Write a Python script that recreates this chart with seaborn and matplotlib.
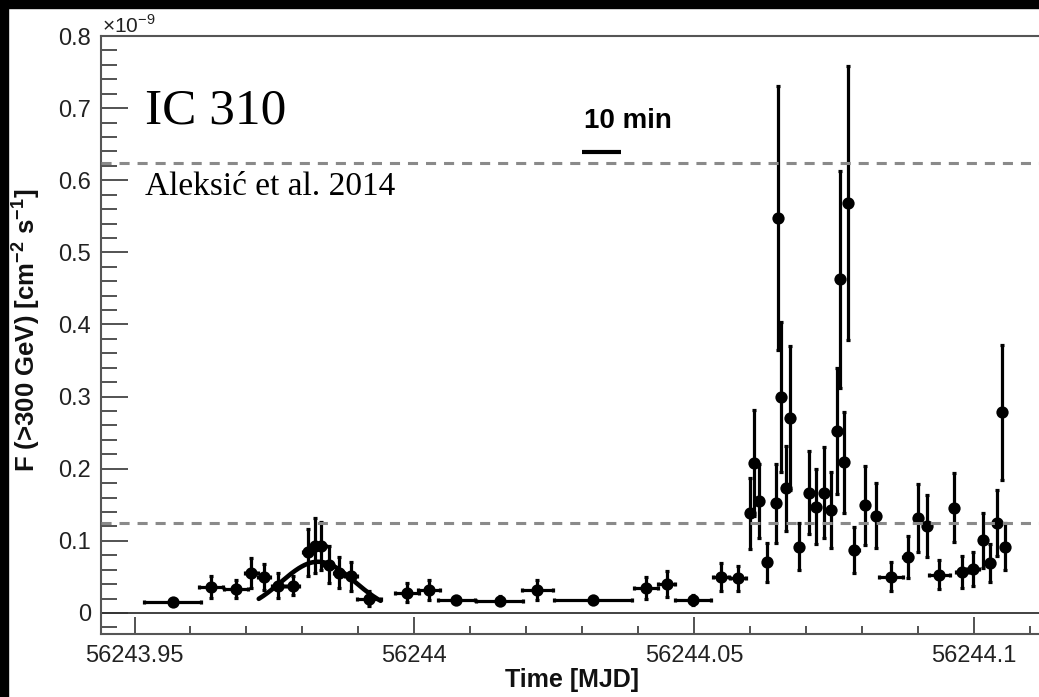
import numpy as np
import pandas as pd
import matplotlib
matplotlib.use("Agg")
import matplotlib.pyplot as plt
import seaborn as sns
from matplotlib.patches import Rectangle
from matplotlib.ticker import FixedLocator, MultipleLocator

# ---------------- data (flux in units of 1e-9 cm^-2 s^-1) ----------------
mjd = [56243.9568, 56243.9637, 56243.9681, 56243.9709, 56243.9731, 56243.9756,
       56243.9783, 56243.9810, 56243.9822, 56243.9834, 56243.9847, 56243.9865,
       56243.9887, 56243.9919, 56243.9987, 56244.0026, 56244.0075, 56244.0153,
       56244.0220, 56244.0320, 56244.0414, 56244.0451, 56244.0498, 56244.0549,
       56244.0579, 56244.0600, 56244.0607, 56244.0616, 56244.0631, 56244.0646,
       56244.0651, 56244.0655, 56244.0664, 56244.0672, 56244.0688, 56244.0706,
       56244.0719, 56244.0732, 56244.0745, 56244.0755, 56244.0762, 56244.0769,
       56244.0776, 56244.0787, 56244.0806, 56244.0826, 56244.0852, 56244.0882,
       56244.0901, 56244.0916, 56244.0939, 56244.0965, 56244.0979, 56244.0999,
       56244.1016, 56244.1029, 56244.1042, 56244.1050, 56244.1057]
flux = [0.015, 0.036, 0.033, 0.055, 0.050, 0.038,
        0.038, 0.084, 0.093, 0.093, 0.067, 0.056,
        0.051, 0.020, 0.028, 0.032, 0.018, 0.017,
        0.032, 0.018, 0.035, 0.040, 0.018, 0.050,
        0.048, 0.138, 0.208, 0.155, 0.070, 0.152,
        0.547, 0.299, 0.173, 0.270, 0.092, 0.167,
        0.147, 0.167, 0.143, 0.252, 0.4625, 0.209,
        0.568, 0.0875, 0.149, 0.135, 0.050, 0.077,
        0.1315, 0.120, 0.053, 0.146, 0.057, 0.061,
        0.101, 0.069, 0.125, 0.278, 0.092]
mjd_err = [0.0051, 0.0021, 0.0021, 0.0011, 0.0011, 0.0011,
           0.0011, 0.0008, 0.0008, 0.0008, 0.0008, 0.0008,
           0.0011, 0.0022, 0.0021, 0.0020, 0.0033, 0.0042,
           0.0028, 0.0070, 0.0022, 0.0016, 0.0032, 0.0014,
           0.0014, 0.0005, 0.0005, 0.0005, 0.0005, 0.0005,
           0.0005, 0.0005, 0.0005, 0.0005, 0.0005, 0.0005,
           0.0005, 0.0005, 0.0005, 0.0005, 0.0005, 0.0005,
           0.0005, 0.0008, 0.0005, 0.0005, 0.0021, 0.0008,
           0.0005, 0.0005, 0.0018, 0.0005, 0.0011, 0.0011,
           0.0005, 0.0008, 0.0005, 0.0005, 0.0005]
flux_err = [0.004, 0.015, 0.012, 0.021, 0.018, 0.017,
            0.013, 0.033, 0.038, 0.033, 0.026, 0.021,
            0.020, 0.010, 0.013, 0.014, 0.006, 0.006,
            0.014, 0.005, 0.015, 0.018, 0.007, 0.019,
            0.017, 0.049, 0.074, 0.051, 0.027, 0.055,
            0.183, 0.104, 0.059, 0.100, 0.033, 0.058,
            0.052, 0.063, 0.053, 0.087, 0.150, 0.070,
            0.190, 0.032, 0.055, 0.045, 0.020, 0.029,
            0.047, 0.043, 0.020, 0.048, 0.022, 0.023,
            0.038, 0.026, 0.046, 0.094, 0.033]

threshold_levels = [0.624, 0.125]

# Gaussian fit of the first (small) flare
fit_amp = 0.071
fit_mu = 56243.9828
fit_sigma = 0.0066
fit_start, fit_end = 56243.9722, 56243.9940

xtick_values = [56243.95, 56244.0, 56244.05, 56244.1]
xtick_labels = ["56243.95", "56244", "56244.05", "56244.1"]
ytick_values = [0.0, 0.1, 0.2, 0.3, 0.4, 0.5, 0.6, 0.7, 0.8]
ytick_labels = ["0", "0.1", "0.2", "0.3", "0.4", "0.5", "0.6", "0.7", "0.8"]

scale_bar_start = 56244.0300
scale_bar_minutes = 10
scale_bar_level = 0.639

df = pd.DataFrame({"mjd": mjd, "flux": flux, "mjd_err": mjd_err, "flux_err": flux_err})

# ---------------- style ----------------
sns.set_theme(style="white")
plt.rcParams["font.family"] = ["Liberation Sans", "DejaVu Sans"]
plt.rcParams["mathtext.fontset"] = "custom"
plt.rcParams["mathtext.rm"] = "Liberation Sans"
plt.rcParams["mathtext.bf"] = "Liberation Sans:bold"

W, H = 1039, 697
fig = plt.figure(figsize=(W / 100, H / 100), dpi=100)
fig.patch.set_facecolor("white")
# black border strips (top and left) as in the scanned figure
fig.patches.append(Rectangle((0, 1 - 7.5 / H), 1, 7.5 / H, transform=fig.transFigure,
                             color="black", zorder=0))
fig.patches.append(Rectangle((0, 0), 8 / W, 1, transform=fig.transFigure,
                             color="black", zorder=0))

ax = fig.add_axes([101 / W, 63 / H, 945.3 / W, 598 / H])
ax.set_facecolor("white")

# error bars
ax.errorbar(df["mjd"], df["flux"], xerr=df["mjd_err"], yerr=df["flux_err"],
            fmt="none", ecolor="black", elinewidth=2.3, capsize=1.6, capthick=2.3,
            zorder=3)
sns.scatterplot(data=df, x="mjd", y="flux", color="black", s=78, marker="o",
                linewidth=0, zorder=4, ax=ax, legend=False)

# fit curve
fit_x = np.linspace(fit_start, fit_end, 200)
fit_y = fit_amp * np.exp(-0.5 * ((fit_x - fit_mu) / fit_sigma) ** 2)
sns.lineplot(x=fit_x, y=fit_y, color="black", linewidth=3.3, ax=ax, zorder=5)

# reference lines
ax.axhline(0, color="#333333", lw=1.3, zorder=2)
for lvl in threshold_levels:
    ax.axhline(lvl, color="#8a8a8a", lw=2.2, dashes=(3.3, 2.6), zorder=6)

# 10 min scale bar
ax.plot([scale_bar_start, scale_bar_start + scale_bar_minutes / 1440.0],
        [scale_bar_level, scale_bar_level], color="black", lw=3,
        solid_capstyle="butt", zorder=5)
ax.text(scale_bar_start + 0.0003, 0.672, "10 min", fontsize=20, fontweight="bold",
        va="baseline", ha="left", color="black")

ax.set_xlim(56243.944, 56244.113)
ax.set_ylim(-0.0292, 0.8)

ax.xaxis.set_major_locator(FixedLocator(xtick_values))
ax.set_xticklabels(xtick_labels)
ax.xaxis.set_minor_locator(MultipleLocator(0.01))
ax.yaxis.set_major_locator(FixedLocator(ytick_values))
ax.set_yticklabels(ytick_labels)
ax.yaxis.set_minor_locator(MultipleLocator(0.02))

ax.tick_params(axis="y", which="major", direction="in", length=19.5, width=1.3,
               color="#444444", labelsize=17, pad=7, labelcolor="#222222", left=True)
ax.tick_params(axis="y", which="minor", direction="in", length=11.5, width=1.3,
               color="#444444", left=True)
ax.tick_params(axis="x", which="major", direction="in", length=12, width=1.3,
               color="#444444", labelsize=17, pad=8, labelcolor="#222222", bottom=True)
ax.tick_params(axis="x", which="minor", direction="in", length=6, width=1.3,
               color="#444444", bottom=True)

for side in ["left", "bottom", "top"]:
    ax.spines[side].set_visible(True)
    ax.spines[side].set_color("#555555")
    ax.spines[side].set_linewidth(1.5)
ax.spines["right"].set_visible(False)
ax.set_xlabel("")
ax.set_ylabel("")

# axis titles
fig.text(572 / W, 1 - 680 / H, "Time [MJD]", fontsize=18, fontweight="bold",
         ha="center", va="center", color="#111111")
fig.text(26 / W, 1 - 330 / H,
         r"F (>300 GeV) [cm$^{\mathbf{-2}}$ s$^{\mathbf{-1}}$]",
         fontsize=18.5, fontweight="bold", rotation=90, ha="center", va="center",
         color="#111111")
fig.text(102 / W, 1 - 33 / H, "×10$^{-9}$", fontsize=15, ha="left", va="baseline",
         color="#222222")

# annotations
fig.text(145 / W, 1 - 123 / H, "IC 310", fontsize=37, family="Liberation Serif",
         ha="left", va="baseline", color="black")
fig.text(145 / W, 1 - 195 / H, "Aleksić et al. 2014", fontsize=24,
         family="Liberation Serif", ha="left", va="baseline", color="black")

fig.savefig("out.png", dpi=100, facecolor=fig.get_facecolor())
